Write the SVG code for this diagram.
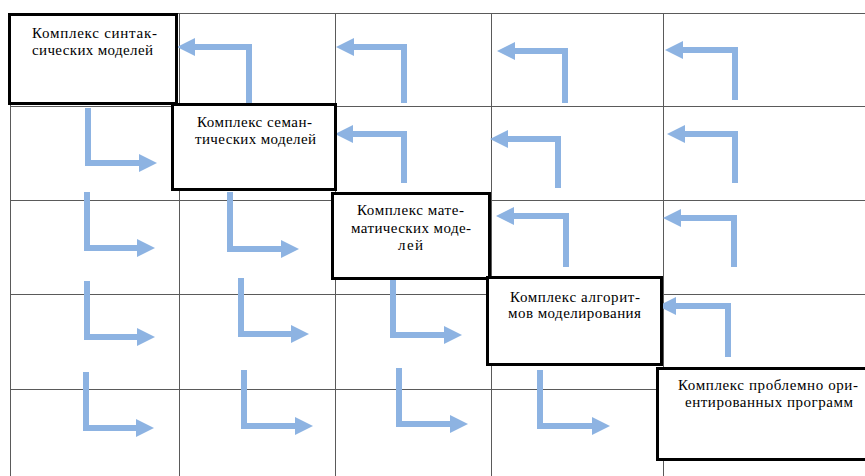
<svg xmlns="http://www.w3.org/2000/svg" width="865" height="476" viewBox="0 0 865 476">
<style>
.grid line{stroke:#5a5a5a;stroke-width:1}
.box rect{fill:#fff;stroke:#000;stroke-width:3}
.box text{font-family:'Liberation Serif','DejaVu Serif',serif;font-size:15px;fill:#000}
.conn path{fill:none;stroke:#8DB3E2;stroke-width:6;stroke-linejoin:miter;marker-end:url(#ah)}
</style>
<defs>
<marker id="ah" markerUnits="userSpaceOnUse" markerWidth="18" markerHeight="18" refX="0" refY="9" orient="auto">
<path d="M0,0 L18,9 L0,18 z" fill="#8DB3E2"/>
</marker>
</defs>
<rect width="865" height="476" fill="#fff"/>
<g class="grid" id="grid">
<line x1="10" y1="13.5" x2="865" y2="13.5"/>
<line x1="10" y1="106.5" x2="865" y2="106.5"/>
<line x1="10" y1="200.5" x2="865" y2="200.5"/>
<line x1="10" y1="294.5" x2="865" y2="294.5"/>
<line x1="10" y1="389.5" x2="865" y2="389.5"/>
<line x1="10.5" y1="13" x2="10.5" y2="476"/>
<line x1="179.5" y1="13" x2="179.5" y2="476"/>
<line x1="335.5" y1="13" x2="335.5" y2="476"/>
<line x1="491.5" y1="13" x2="491.5" y2="476"/>
<line x1="663.5" y1="13" x2="663.5" y2="476"/>
</g>
<g class="conn" id="connectors">
<path d="M249,103 V47 H195"/>
<path d="M404,103 V47 H354"/>
<path d="M565,103 V51 H515"/>
<path d="M735,100 V50 H683"/>
<path d="M404,183 V134 H353"/>
<path d="M558,188 V139 H508"/>
<path d="M735,183 V134 H685"/>
<path d="M566,267 V216 H514"/>
<path d="M734,267 V218 H681"/>
<path d="M728,357 V306 H676"/>
<path d="M88,108 V163 H139"/>
<path d="M87,192 V248 H137"/>
<path d="M230,192 V249 H281"/>
<path d="M87,281 V337 H137"/>
<path d="M241,278 V334 H291"/>
<path d="M393,280 V335 H444"/>
<path d="M86,372 V428 H136"/>
<path d="M244,370 V426 H295"/>
<path d="M399,368 V424 H450"/>
<path d="M540,370 V426 H592"/>
</g>
<g class="box" id="node1">
<rect x="9.5" y="14.5" width="167" height="89"/>
<text x="32" y="38" textLength="125" lengthAdjust="spacing">Комплекс синтак-</text>
<text x="32" y="55" textLength="121" lengthAdjust="spacing">сических моделей</text>
</g>
<g class="box" id="node2">
<rect x="172.5" y="104.5" width="163" height="85"/>
<text x="197" y="127" textLength="115" lengthAdjust="spacing">Комплекс семан-</text>
<text x="195" y="144" textLength="121" lengthAdjust="spacing">тических моделей</text>
</g>
<g class="box" id="node3">
<rect x="332.5" y="193.5" width="157" height="85"/>
<text x="357" y="215" textLength="107" lengthAdjust="spacing">Комплекс мате-</text>
<text x="351" y="233" textLength="120" lengthAdjust="spacing">матических моде-</text>
<text x="398" y="250" textLength="25" lengthAdjust="spacing">лей</text>
</g>
<g class="box" id="node4">
<rect x="487.5" y="277.5" width="174" height="87"/>
<text x="510" y="302" textLength="130" lengthAdjust="spacing">Комплекс алгорит-</text>
<text x="508" y="318" textLength="133" lengthAdjust="spacing">мов моделирования</text>
</g>
<g class="box" id="node5">
<rect x="657.5" y="368.5" width="212" height="91"/>
<text x="678" y="390" textLength="180" lengthAdjust="spacing">Комплекс проблемно ори-</text>
<text x="685" y="407" textLength="168" lengthAdjust="spacing">ентированных программ</text>
</g>
</svg>
